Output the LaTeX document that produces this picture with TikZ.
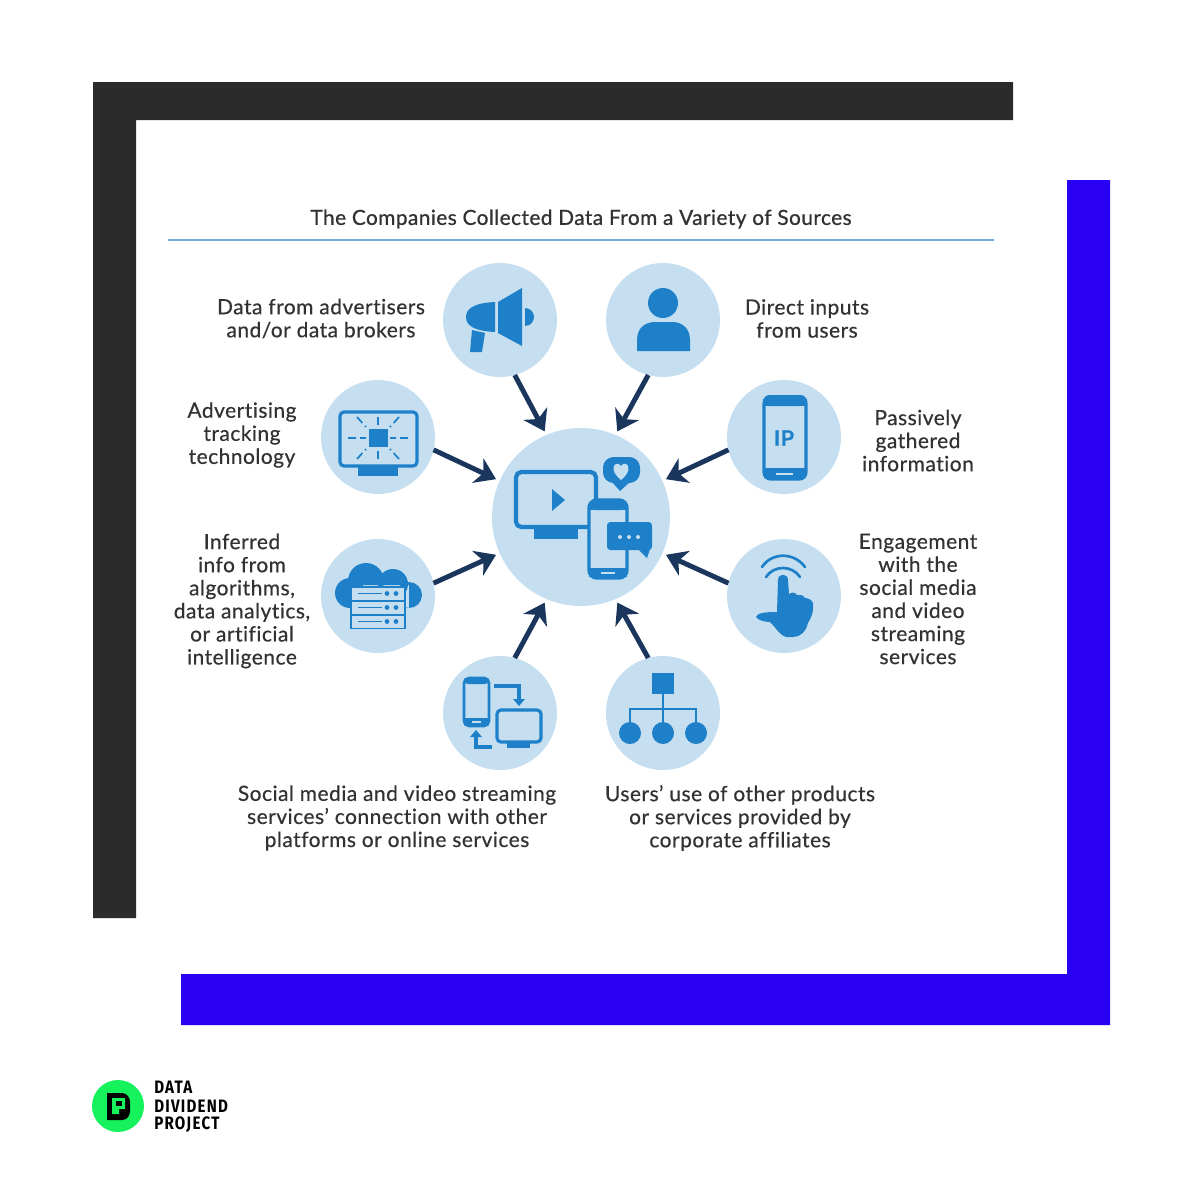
\documentclass[tikz,border=0pt]{standalone}
\usepackage{fontspec}
\usetikzlibrary{arrows.meta}
\setmainfont[FakeBold=0.5,LetterSpace=2.4,Ligatures=NoCommon]{Lato}
\newfontfamily\titlefont[FakeBold=0.8,LetterSpace=2.2,Ligatures=NoCommon]{Lato}
\newfontfamily\logofont[FakeStretch=0.84,LetterSpace=7]{Fira Sans}
\definecolor{framedark}{RGB}{43,43,43}
\definecolor{frameblue}{RGB}{42,0,245}
\definecolor{discblue}{RGB}{197,223,241}
\definecolor{iconblue}{RGB}{30,128,200}
\definecolor{arrownavy}{RGB}{27,54,93}
\definecolor{ruleblue}{RGB}{116,170,216}
\definecolor{textgrey}{RGB}{50,50,50}
\definecolor{logogreen}{RGB}{22,242,92}
\tikzset{
  disc/.style={circle,fill=discblue,inner sep=0pt,outer sep=0pt,minimum size=85.5pt},
  coredisc/.style={circle,fill=discblue,inner sep=0pt,outer sep=3pt,minimum size=133.5pt},
  flowarrow/.style={draw=arrownavy,line width=3.7pt,-{Stealth[length=15pt,width=20pt,inset=4.5pt]}},
  sidelabel/.style={align=center,text=textgrey,inner sep=0pt,font=\fontsize{15.7}{17.3}\selectfont},
  iconfill/.style={fill=iconblue,draw=none},
  iconline/.style={draw=iconblue,line width=2.4pt},
  thinline/.style={draw=iconblue,line width=1.3pt},
  lightfill/.style={fill=discblue,draw=none},
  logotext/.style={anchor=west,inner sep=0pt,font=\logofont\fontsize{13.5}{15}\bfseries\selectfont},
}
\begin{document}
\begin{tikzpicture}[x=0.75pt,y=0.75pt,yscale=-1,xscale=1]
\useasboundingbox (0,0) rectangle (1200,1200);
%Frames
\fill[framedark] (93,82) -- (1013,82) -- (1013,120) -- (136,120) -- (136,918) -- (93,918) -- cycle;
\fill[frameblue] (1067,180) -- (1110,180) -- (1110,1025) -- (181,1025) -- (181,974) -- (1067,974) -- cycle;
%Title
\node[text=textgrey,inner sep=0pt,font=\titlefont\fontsize{15.6}{18}\selectfont] (title) at (581,219) {The Companies Collected Data From a Variety of Sources};
\draw[draw=ruleblue,line width=1.7pt] (168,240) -- (994,240);
%Discs
\node[coredisc] (core) at (581,517) {};
\node[disc] (adverts) at (500,320) {};
\node[disc] (inputs) at (663,320) {};
\node[disc] (tracking) at (378,437) {};
\node[disc] (passive) at (784,437) {};
\node[disc] (inferred) at (378,596) {};
\node[disc] (engage) at (784,596) {};
\node[disc] (connect) at (500,713) {};
\node[disc] (affiliates) at (663,713) {};
%Arrows
\foreach \src/\from/\to in {adverts/-75/113,inputs/-105/67,tracking/-13/156,passive/-167/24,inferred/13/204,engage/167/-24,connect/75/-113,affiliates/105/-67}
  \draw[flowarrow] (\src.\from) -- (core.\to);
%Labels
\node[sidelabel] (adverts text) at (321,318.5) {Data from advertisers\\and/or data brokers};
\node[sidelabel] (inputs text) at (807,318.5) {Direct inputs\\from users};
\node[sidelabel] (tracking text) at (242,435) {Advertising\\tracking\\technology};
\node[sidelabel] (passive text) at (918,440.5) {Passively\\gathered\\information};
\node[sidelabel] (inferred text) at (242,601) {Inferred\\info from\\algorithms,\\data analytics,\\or artificial\\intelligence};
\node[sidelabel] (engage text) at (918,599) {Engagement\\with the\\social media\\and video\\streaming\\services};
\node[sidelabel] (connect text) at (397,818) {Social media and video streaming\\services’ connection with other\\platforms or online services};
\node[sidelabel] (affiliates text) at (740,818) {Users’ use of other products\\or services provided by\\corporate affiliates};
%Megaphone
\fill[iconfill] (495,302) .. controls (475,303) and (466,308) .. (466,317) .. controls (466,326) and (475,331) .. (495,332) -- cycle;
\fill[iconfill] (498,302) -- (522,288) -- (522,346) -- (498,333) -- cycle;
\fill[iconfill] (472,330) -- (485,333) -- (482,352) -- (470,352) -- cycle;
\fill[iconfill] (525,308) .. controls (531,308) and (534,313) .. (534,317) .. controls (534,321) and (531,326) .. (525,326) -- cycle;
%Person
\fill[iconfill] (663,303) circle[radius=15];
\fill[iconfill] (637,351) -- (637,340) .. controls (637,328) and (645,322) .. (655,322) -- (672,322) .. controls (682,322) and (690,328) .. (690,340) -- (690,351) -- cycle;
%Tracking screen
\draw[iconline,rounded corners=3pt] (340,412) rectangle (417,466);
\fill[iconfill] (358,466) rectangle (398,476);
\fill[iconfill] (369,429) rectangle (388,447);
\draw[thinline,dash pattern=on 6pt off 3pt] (348,438) -- (366,438) (408,438) -- (390,438) (378,417) -- (378,426) (378,459) -- (378,450) (357,417) -- (366,427) (399,417) -- (390,427) (357,459) -- (366,449) (399,459) -- (390,449);
%Phone with IP
\draw[iconline,rounded corners=5pt] (764,397) rectangle (806,479);
\fill[iconfill,rounded corners=5pt] (763,395) -- (807,395) -- (807,406) -- (763,406) -- cycle;
\fill[iconfill] (763,402) rectangle (807,406);
\fill[iconfill] (764,468) rectangle (806,478);
\draw[draw=discblue,line width=1.3pt] (776,474) -- (793,474);
\node[text=iconblue,inner sep=0pt,font=\fontsize{16}{18}\bfseries\selectfont] (ip) at (784,438) {IP};
%Cloud and servers
\fill[iconfill] (350,593) circle[radius=15] (366,581) circle[radius=18] (393,584) circle[radius=15] (409,595) circle[radius=13] (350,585) rectangle (409,608);
\foreach \rowy in {587,601,615}{
  \draw[lightfill,draw=iconblue,line width=1.1pt] (351,\rowy) rectangle (405,\rowy+13.5);
  \draw[draw=iconblue,line width=1.3pt] (358,\rowy+6.5) -- (382,\rowy+6.5);
  \fill[iconfill] (387,\rowy+6.5) circle[radius=2.4] (396,\rowy+6.5) circle[radius=2.4];
}
%Hand
\draw[draw=iconblue,line width=2pt,line cap=round] (762,567) .. controls (772,552) and (794,552) .. (805,567);
\draw[draw=iconblue,line width=2pt,line cap=round] (766,577) .. controls (774,565) and (792,565) .. (800,577);
\fill[iconfill] (778,580) .. controls (778,573) and (788,573) .. (788,580) -- (789,594) .. controls (792,592) and (795,592) .. (797,595) .. controls (800,594) and (803,595) .. (805,598) .. controls (808,598) and (812,600) .. (813,603) .. controls (814,612) and (811,618) .. (808,623) .. controls (806,632) and (800,637) .. (793,637) -- (786,637) .. controls (778,634) and (775,626) .. (770,622) .. controls (764,622) and (758,620) .. (756,617) .. controls (757,613) and (765,612) .. (777,612) -- cycle;
%Central screen and phone
\draw[draw=iconblue,line width=3.2pt,rounded corners=4pt] (516,472) rectangle (596,527);
\fill[iconfill] (534,529) rectangle (578,539);
\fill[iconfill] (552,489) -- (565,500) -- (552,511) -- cycle;
\fill[lightfill,rounded corners=6pt] (588,499) rectangle (628,579);
\draw[draw=iconblue,line width=2.6pt,rounded corners=6pt] (589,500) rectangle (627,578);
\fill[iconfill,rounded corners=4pt] (589,500) -- (627,500) -- (627,510) -- (589,510) -- cycle;
\fill[iconfill] (589,505) rectangle (627,510);
\fill[iconfill] (589,568) rectangle (627,577);
\draw[draw=discblue,line width=1.2pt] (601,573) -- (615,573);
\fill[iconfill,rounded corners=8pt] (603,457) -- (640,457) -- (640,483) -- (603,483) -- cycle;
\fill[iconfill] (612,482) -- (630,482) -- (620,491) -- cycle;
\fill[lightfill] (621,480) .. controls (612,473) and (612,465) .. (616,464) .. controls (618,463) and (620,464) .. (621,466) .. controls (622,464) and (624,463) .. (626,464) .. controls (630,465) and (630,473) .. (621,480) -- cycle;
\fill[iconfill,rounded corners=2.5pt] (607,522) -- (652,522) -- (652,550) -- (607,550) -- cycle;
\fill[iconfill] (638,549) -- (647,558) -- (650,549) -- cycle;
\fill[lightfill] (620,537) circle[radius=2] (629,537) circle[radius=2] (638,537) circle[radius=2];
%Devices
\draw[draw=iconblue,line width=2.2pt,rounded corners=4pt] (464,678) rectangle (489,726);
\fill[iconfill,rounded corners=3pt] (464,678) -- (489,678) -- (489,684) -- (464,684) -- cycle;
\fill[iconfill] (464,718) rectangle (489,725);
\draw[draw=discblue,line width=1pt] (472,722) -- (481,722);
\draw[draw=iconblue,line width=2.4pt,rounded corners=3pt] (497,710) rectangle (541,742);
\fill[iconfill] (507,743) rectangle (530,748);
\draw[draw=iconblue,line width=2.4pt] (494,686) -- (519,686) -- (519,700);
\fill[iconfill] (513,699) -- (525,699) -- (519,706) -- cycle;
\draw[draw=iconblue,line width=2.4pt] (492,747) -- (476,747) -- (476,736);
\fill[iconfill] (470,737) -- (482,737) -- (476,730) -- cycle;
%Hierarchy
\fill[iconfill] (652,673) rectangle (674,694);
\draw[draw=iconblue,line width=2.2pt] (663,694) -- (663,730) (630,730) -- (630,709) -- (696,709) -- (696,730);
\fill[iconfill] (630,733) circle[radius=11] (663,733) circle[radius=11] (696,733) circle[radius=11];
%Logo
\fill[logogreen] (118,1106) circle[radius=26];
\fill[black] (107,1093) -- (122,1093) .. controls (127,1093) and (130,1098) .. (130,1102) -- (130,1111) .. controls (130,1116) and (127,1120) .. (122,1120) -- (107,1120) -- cycle;
\fill[logogreen] (112,1098) -- (125,1098) -- (125,1109) -- (119,1109) -- (119,1114) -- (112,1114) -- cycle;
\fill[black] (116,1101) -- (122,1101) -- (122,1106) -- (116,1106) -- cycle;
\node[logotext] (logo line one) at (154,1087) {DATA};
\node[logotext] (logo line two) at (154,1106) {DIVIDEND};
\node[logotext] (logo line three) at (154,1125) {PROJECT};
\end{tikzpicture}
\end{document}
